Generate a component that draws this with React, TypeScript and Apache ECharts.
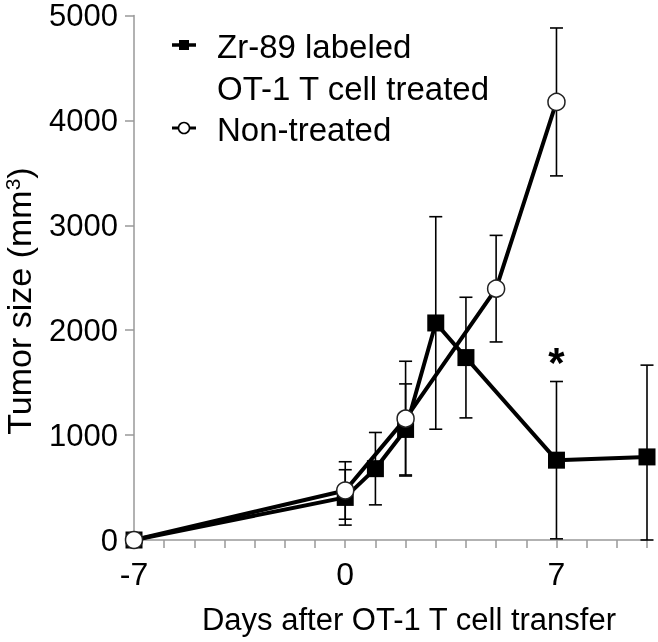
import React, { useEffect, useRef } from "react";
import * as echarts from "echarts";

// Zr-89 labeled OT-1 T cell treated
const treatedDays = [-7, 0, 1, 2, 3, 4, 7, 10];
const treatedMean = [0, 406, 680, 1054, 2069, 1739, 761, 792];
const treatedErr = [0, 264, 345, 434, 1013, 575, 750, 875];

// Non-treated
const nonDays = [-7, 0, 2, 5, 7];
const nonMean = [0, 472, 1157, 2396, 4176];
const nonErr = [0, 274, 547, 508, 705];

const xTickLabels = [-7, 0, 7];
const starDay = 7;
const starValue = 1695;

const FONT = "'Liberation Sans', Arial, Helvetica, sans-serif";

function errData(days: number[], mean: number[], err: number[]) {
  return days
    .map((d, i) => [d, Math.max(0, mean[i] - err[i]), mean[i] + err[i], err[i]])
    .filter((r) => r[3] > 0);
}

function errRender(params: any, api: any) {
  const x = api.value(0);
  const lo = api.value(1);
  const hi = api.value(2);
  const pHi = api.coord([x, hi]);
  const pLo = api.coord([x, lo]);
  const w = 6.5;
  const style = { stroke: "#000", lineWidth: 1.6 };
  return {
    type: "group",
    children: [
      { type: "line", shape: { x1: pHi[0], y1: pHi[1], x2: pLo[0], y2: pLo[1] }, style },
      { type: "line", shape: { x1: pHi[0] - w, y1: pHi[1], x2: pHi[0] + w, y2: pHi[1] }, style },
      { type: "line", shape: { x1: pLo[0] - w, y1: pLo[1], x2: pLo[0] + w, y2: pLo[1] }, style },
    ],
  };
}

export default function App() {
  const ref = useRef<HTMLDivElement>(null);
  useEffect(() => {
    if (!ref.current) return;
    const chart = echarts.init(ref.current, null, { renderer: "svg" });
    const legendFont = 33;
    const option: any = {
      animation: false,
      textStyle: { fontFamily: FONT },
      grid: { left: 134, right: 11, top: 11, bottom: 102, containLabel: false },
      xAxis: {
        type: "value",
        min: -7,
        max: 10,
        interval: 1,
        name: "Days after OT-1 T cell transfer",
        nameLocation: "middle",
        nameGap: 64,
        nameTextStyle: { fontSize: 31, color: "#000", fontFamily: FONT, padding: [0, 0, 0, 37] },
        axisLine: { show: true, onZero: false, lineStyle: { color: "#999", width: 1.5 } },
        axisTick: { show: true, inside: false, length: 8, lineStyle: { color: "#999", width: 1.5 } },
        axisLabel: {
          fontSize: 32,
          color: "#000",
          fontFamily: FONT,
          margin: 18,
          formatter: (v: number) => (xTickLabels.indexOf(v) >= 0 ? String(v) : ""),
        },
        splitLine: { show: false },
      },
      yAxis: {
        type: "value",
        min: 0,
        max: 5000,
        interval: 1000,
        axisLine: { show: true, onZero: false, lineStyle: { color: "#999", width: 1.5 } },
        axisTick: { show: true, inside: false, length: 9, lineStyle: { color: "#999", width: 1.5 } },
        axisLabel: {
          fontSize: 31,
          color: "#000",
          fontFamily: FONT,
          margin: 16,
          formatter: (v: number) => String(v),
        },
        splitLine: { show: false },
      },
      graphic: [
        {
          type: "text",
          x: 19,
          y: 301,
          rotation: Math.PI / 2,
          style: {
            text: "Tumor size (mm{sup|3})",
            font: `34px ${FONT}`,
            fill: "#000",
            align: "center",
            verticalAlign: "middle",
            rich: {
              sup: { fontSize: 21, verticalAlign: "top", padding: [0, 0, 14, 0], fontFamily: FONT, fill: "#000" },
            },
          },
        },
        // legend
        { type: "line", shape: { x1: 172, y1: 45, x2: 196, y2: 45 }, style: { stroke: "#000", lineWidth: 3.5 } },
        { type: "rect", shape: { x: 179, y: 40, width: 10, height: 10 }, style: { fill: "#000" } },
        { type: "text", x: 217, y: 46, style: { text: "Zr-89 labeled", font: `${legendFont}px ${FONT}`, fill: "#000", verticalAlign: "middle" } },
        { type: "text", x: 217, y: 88, style: { text: "OT-1 T cell treated", font: `${legendFont}px ${FONT}`, fill: "#000", verticalAlign: "middle" } },
        { type: "line", shape: { x1: 172, y1: 128, x2: 196, y2: 128 }, style: { stroke: "#000", lineWidth: 3 } },
        { type: "circle", shape: { cx: 184, cy: 128, r: 5.5 }, style: { fill: "#fff", stroke: "#000", lineWidth: 1.5 } },
        { type: "text", x: 217, y: 129, style: { text: "Non-treated", font: `${legendFont}px ${FONT}`, fill: "#000", verticalAlign: "middle" } },
      ],
      series: [
        {
          name: "Zr-89 labeled OT-1 T cell treated error",
          type: "custom",
          renderItem: errRender,
          data: errData(treatedDays, treatedMean, treatedErr),
          encode: { x: 0, y: [1, 2] },
          z: 1,
        },
        {
          name: "Non-treated error",
          type: "custom",
          renderItem: errRender,
          data: errData(nonDays, nonMean, nonErr),
          encode: { x: 0, y: [1, 2] },
          z: 1,
        },
        {
          name: "Zr-89 labeled OT-1 T cell treated",
          type: "line",
          data: treatedDays.map((d, i) => [d, treatedMean[i]]),
          symbol: "rect",
          symbolSize: 17,
          lineStyle: { color: "#000", width: 4 },
          itemStyle: { color: "#000", borderColor: "#000", borderWidth: 0 },
          z: 3,
          markPoint: {
            symbol: "circle",
            symbolSize: 0,
            data: [{ coord: [starDay, starValue] }],
            label: {
              show: true,
              formatter: "*",
              fontSize: 42,
              fontWeight: "bold",
              color: "#000",
              fontFamily: FONT,
              position: "inside",
            },
          },
        },
        {
          name: "Non-treated",
          type: "line",
          data: nonDays.map((d, i) => [d, nonMean[i]]),
          symbol: "circle",
          symbolSize: 17,
          lineStyle: { color: "#000", width: 4 },
          itemStyle: { color: "#fff", borderColor: "#222", borderWidth: 1.5 },
          z: 4,
        },
      ],
    };
    chart.setOption(option);
    return () => chart.dispose();
  }, []);
  return (
    <div
      ref={ref}
      style={{ position: "fixed", left: 0, top: 0, width: 658, height: 642 }}
    />
  );
}
